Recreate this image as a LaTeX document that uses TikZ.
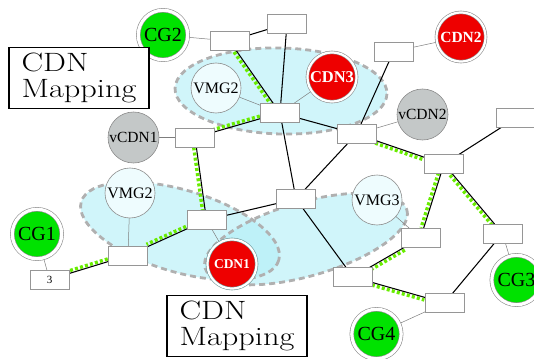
\documentclass[tikz,border=0pt]{standalone}
\usepackage{fontspec}
\newfontfamily\tms{Liberation Serif}
\definecolor{cggreen}{RGB}{0,226,0}
\definecolor{cdnred}{RGB}{238,0,0}
\definecolor{vgray}{RGB}{196,200,200}
\definecolor{vmgfill}{RGB}{238,252,254}
\definecolor{ellfill}{RGB}{177,238,247}
\definecolor{ellline}{RGB}{176,176,176}
\definecolor{dotgreen}{RGB}{104,236,0}
\definecolor{boxgray}{RGB}{150,150,150}
\definecolor{thingray}{RGB}{125,125,125}
\definecolor{ringgray}{RGB}{140,140,140}
\definecolor{tealring}{RGB}{110,150,150}
\pgfdeclarelayer{ell}
\pgfdeclarelayer{lnk}
\pgfsetlayers{ell,lnk,main}
\newcommand\mklab[1]{\makebox[0pt]{#1}}
\newcommand\wideline[1]{\scalebox{1.22}[1]{#1}}
\begin{document}
\begin{tikzpicture}[x=1pt,y=-1pt,
  rbox/.style={draw=boxgray,fill=white,line width=0.6pt,minimum width=39pt,minimum height=19pt,inner sep=0pt,outer sep=0pt},
  cgnode/.style={circle,fill=cggreen,draw=ringgray,line width=0.6pt,double=white,double distance=3.2pt,minimum size=49.4pt,inner sep=0pt,outer sep=0pt,font=\tms\fontsize{20}{20}\selectfont},
  cdnnode/.style={circle,fill=cdnred,draw=ringgray,line width=0.6pt,double=white,double distance=2.2pt,minimum size=49.2pt,inner sep=0pt,outer sep=0pt,text=white},
  vnode/.style={circle,fill=vgray,draw=ringgray,line width=0.6pt,minimum size=51pt,inner sep=0pt,outer sep=0pt,font=\tms\fontsize{15.5}{15.5}\selectfont},
  vmgnode/.style={circle,fill=vmgfill,draw=ringgray,line width=0.6pt,minimum size=50pt,inner sep=0pt,outer sep=0pt,font=\tms\fontsize{16}{16}\selectfont},
  mapbox/.style={draw=black,line width=1.2pt,fill=white,minimum width=140pt,minimum height=61pt,align=left,inner sep=0pt,font=\fontsize{26.5}{26.5}\selectfont},
  blink/.style={draw=black,line width=1.05pt},
  glink/.style={draw=dotgreen,line width=3.4pt,dash pattern=on 3pt off 2.2pt},
  tlink/.style={draw=thingray,line width=0.5pt},
  ellarea/.style={fill=ellfill,fill opacity=0.6},
  elledge/.style={draw=ellline,line width=2.8pt,dash pattern=on 6pt off 4pt}
]
\useasboundingbox (0,0) rectangle (534,358);

% router boxes
\node[rbox] (r1) at (287,23.5) {};
\node[rbox] (r2) at (229.5,41) {};
\node[rbox] (r3) at (393.5,51.5) {};
\node[rbox] (r4) at (280,113) {};
\node[rbox] (r5) at (195,137.5) {};
\node[rbox] (r6) at (356.5,134) {};
\node[rbox] (r7) at (516,118) {};
\node[rbox] (r8) at (444,164) {};
\node[rbox] (r9) at (296,199) {};
\node[rbox] (r10) at (206.5,220) {};
\node[rbox] (r11) at (128,255.5) {};
\node[rbox,font=\tms\fontsize{11}{11}\selectfont] (r12) at (49.5,279.5) {3};
\node[rbox] (r13) at (420.5,238) {};
\node[rbox] (r14) at (502.5,233.5) {};
\node[rbox] (r15) at (353,277) {};
\node[rbox] (r16) at (444.5,303) {};

% circles
\node[cgnode] (cg2) at (163,35) {\mklab{CG2}};
\node[cgnode] (cg1) at (37,234) {\mklab{CG1}};
\node[cgnode] (cg3) at (516.5,280) {\mklab{CG3}};
\node[cgnode] (cg4) at (376.5,334) {\mklab{CG4}};
\node[cdnnode,font=\tms\bfseries\fontsize{15.5}{15.5}\selectfont] (cdn2) at (461,37) {\mklab{CDN2}};
\node[cdnnode,font=\tms\bfseries\fontsize{16.5}{16.5}\selectfont] (cdn3) at (332,77) {\mklab{CDN3}};
\node[cdnnode,draw=tealring,font=\tms\bfseries\fontsize{13.5}{13.5}\selectfont] (cdn1) at (232,264) {\mklab{CDN1}};
\node[vnode] (vcdn1) at (133.5,137.5) {\mklab{vCDN1}};
\node[vnode] (vcdn2) at (422.5,114.5) {\mklab{vCDN2}};
\node[vmgnode] (vmga) at (216,88) {\mklab{VMG2}};
\node[vmgnode] (vmgb) at (130,193) {\mklab{VMG2}};
\node[vmgnode] (vmg3) at (377,200) {\mklab{VMG3}};

% label boxes
\node[mapbox] (map1) at (79,78) {\wideline{CDN}\\\wideline{Mapping}};
\node[mapbox] (map2) at (237,326) {\wideline{CDN}\\\wideline{Mapping}};

% ellipses
\begin{pgfonlayer}{ell}
  \path[ellarea,rotate around={-1.5:(281,91)}] (281,91) ellipse (106 and 43);
  \path[ellarea,rotate around={-16.5:(180,231)}] (180,231) ellipse (103 and 41);
  \path[ellarea,rotate around={16:(306,239)}] (306,239) ellipse (105 and 37);
  \path[elledge,rotate around={-1.5:(281,91)}] (281,91) ellipse (106 and 43);
  \path[elledge,rotate around={-16.5:(180,231)}] (180,231) ellipse (103 and 41);
  \path[elledge,rotate around={16:(306,239)}] (306,239) ellipse (105 and 37);
\end{pgfonlayer}

% links
\begin{pgfonlayer}{lnk}
  % green dotted companions
  \path[glink,transform canvas={shift={(-2.1,1.5)}}] (r2) -- (r4);
  \path[glink,transform canvas={shift={(-0.7,-2.5)}}] (r4) -- (r5);
  \path[glink,transform canvas={shift={(-2.6,0.36)}}] (r5) -- (r10);
  \path[glink,transform canvas={shift={(-0.85,2.45)}}] (r6) -- (r8);
  \path[glink,transform canvas={shift={(-2.45,-0.8)}}] (r8) -- (r13);
  \path[glink,transform canvas={shift={(-2.0,1.67)}}] (r8) -- (r14);
  \path[glink,transform canvas={shift={(-1.07,-2.37)}}] (r10) -- (r11);
  \path[glink,transform canvas={shift={(-0.76,-2.5)}}] (r11) -- (r12);
  \path[glink,transform canvas={shift={(1.3,2.25)}}] (r15) -- (r13);
  \path[glink,transform canvas={shift={(-0.7,2.5)}}] (r15) -- (r16);
  % black links
  \path[blink] (r2) -- (r1);
  \path[blink] (r2) -- (r4);
  \path[blink] (r1) -- (r4);
  \path[blink] (r4) -- (r9);
  \path[blink] (r4) -- (r5);
  \path[blink] (r4) -- (r6);
  \path[blink] (r3) -- (r6);
  \path[blink] (r5) -- (r10);
  \path[blink] (r6) -- (r9);
  \path[blink] (r6) -- (r8);
  \path[blink] (r8) -- (r7);
  \path[blink] (r8) -- (r13);
  \path[blink] (r8) -- (r14);
  \path[blink] (r9) -- (r10);
  \path[blink] (r9) -- (r15);
  \path[blink] (r10) -- (r11);
  \path[blink] (r11) -- (r12);
  \path[blink] (r15) -- (r13);
  \path[blink] (r15) -- (r16);
  \path[blink] (r16) -- (r14);
  % thin attachments
  \path[tlink] (cg2) -- (r2);
  \path[tlink] (vmga) -- (r4);
  \path[tlink] (cdn3) -- (r4);
  \path[tlink] (vcdn1) -- (r5);
  \path[tlink] (cdn2) -- (r3);
  \path[tlink] (vcdn2) -- (r6);
  \path[tlink] (vmgb) -- (r11);
  \path[tlink] (cg1) -- (r12);
  \path[tlink] (cdn1) -- (r10);
  \path[tlink] (vmg3) -- (r13);
  \path[tlink] (cg3) -- (r14);
  \path[tlink] (cg4) -- (r16);
\end{pgfonlayer}
\end{tikzpicture}
\end{document}
